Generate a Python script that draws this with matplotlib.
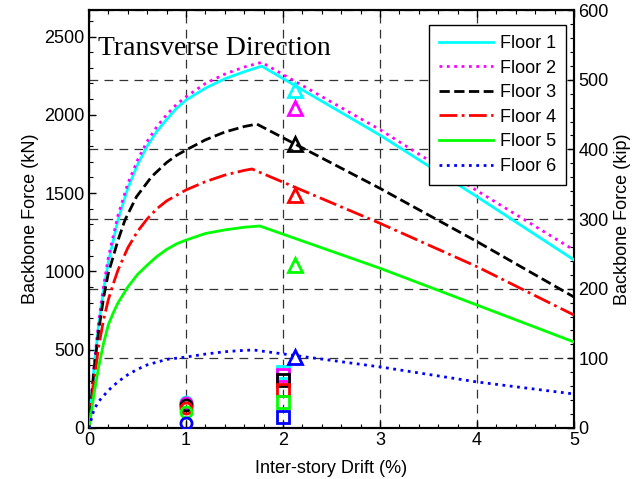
import matplotlib
matplotlib.use("Agg")
import matplotlib.pyplot as plt
from matplotlib.ticker import MultipleLocator

KIP = 4.44822

# ---- data (kN vs inter-story drift %) ----
x1 = [0, 0.05, 0.1, 0.15, 0.2, 0.3, 0.4, 0.5, 0.6, 0.7, 0.8, 0.9, 1.0, 1.2, 1.4, 1.6, 1.78, 3.0, 4.0, 5.0]
f1 = [0, 370, 660, 880, 1060, 1330, 1530, 1680, 1800, 1895, 1970, 2040, 2094, 2170, 2230, 2275, 2311, 1870, 1477, 1073]

x2 = [0, 0.05, 0.1, 0.15, 0.2, 0.3, 0.4, 0.5, 0.6, 0.7, 0.8, 0.9, 1.0, 1.2, 1.4, 1.6, 1.78, 3.0, 4.0, 5.0]
f2 = [0, 380, 680, 905, 1090, 1360, 1560, 1710, 1830, 1925, 2000, 2065, 2115, 2200, 2260, 2305, 2335, 1905, 1515, 1136]

x3 = [0, 0.05, 0.1, 0.15, 0.2, 0.3, 0.371, 0.49, 0.646, 0.8, 0.9, 1.0, 1.2, 1.4, 1.6, 1.73, 3.0, 4.0, 5.0]
f3 = [0, 360, 620, 830, 990, 1200, 1328, 1477, 1605, 1695, 1740, 1775, 1840, 1890, 1925, 1941, 1530, 1190, 836]

x4 = [0, 0.05, 0.1, 0.15, 0.2, 0.25, 0.3, 0.4, 0.5, 0.6, 0.7, 0.8, 1.0, 1.2, 1.4, 1.6, 1.68, 3.0, 4.0, 5.0]
f4 = [0, 290, 520, 690, 820, 920, 1010, 1150, 1255, 1335, 1400, 1450, 1520, 1573, 1615, 1645, 1654, 1307, 1030, 721]

x5 = [0, 0.05, 0.1, 0.15, 0.2, 0.25, 0.3, 0.4, 0.5, 0.6, 0.7, 0.8, 0.9, 1.0, 1.2, 1.4, 1.6, 1.76, 3.0, 4.0, 5.0]
f5 = [0, 210, 390, 540, 660, 735, 800, 900, 980, 1040, 1095, 1140, 1175, 1200, 1242, 1265, 1282, 1290, 1020, 785, 549]

x6 = [0, 0.05, 0.1, 0.2, 0.3, 0.4, 0.5, 0.6, 0.8, 1.0, 1.2, 1.4, 1.6, 1.7, 3.0, 4.0, 5.0]
f6 = [0, 115, 170, 240, 296, 340, 375, 403, 438, 453, 472, 487, 496, 498, 390, 294, 217]

# marker points (kN)
circle_x = 1.0
circle_f = [168, 160, 147, 128, 102, 34]
square_x = 2.0
square_f = [357, 338, 306, 243, 166, 70]
tri_x = 2.12
tri_f = [2158, 2043, 1813, 1488, 1041, 453]

labels = ["Floor 1", "Floor 2", "Floor 3", "Floor 4", "Floor 5", "Floor 6"]
colors = ["#00FFFF", "#FF00FF", "#000000", "#FF0000", "#00FF00", "#0000FF"]
styles = ["-", ":", "--", "-.", "-", ":"]

xs = [x1, x2, x3, x4, x5, x6]
fs = [f1, f2, f3, f4, f5, f6]

plt.rcParams['font.family'] = ['Liberation Sans', 'DejaVu Sans']

fig = plt.figure(figsize=(6.4, 4.79), dpi=100)
ax = fig.add_axes([0.139, 0.1065, 0.758, 0.8725])
ax2 = ax.twinx()

for x, f, c, s, l in zip(xs, fs, colors, styles, labels):
    ax.plot(x, f, color=c, linestyle=s, linewidth=2, label=l, zorder=3)

for c, cf, sf, tf in zip(colors, circle_f, square_f, tri_f):
    ax.plot([circle_x], [cf], 'o', mfc='none', mec=c, mew=2, ms=8, zorder=4)
    ax.plot([square_x], [sf], 's', mfc='none', mec=c, mew=2, ms=8, zorder=4)
    ax.plot([tri_x], [tf], '^', mfc='none', mec=c, mew=2, ms=10, zorder=4)

ax.set_xlim(0, 5)
ax.set_ylim(0, 600 * KIP)
ax2.set_ylim(0, 600)

ax.xaxis.set_major_locator(MultipleLocator(1))
ax.xaxis.set_minor_locator(MultipleLocator(0.2))
ax.yaxis.set_major_locator(MultipleLocator(500))
ax.yaxis.set_minor_locator(MultipleLocator(100))
ax2.yaxis.set_major_locator(MultipleLocator(100))
ax2.yaxis.set_minor_locator(MultipleLocator(20))

for a in (ax, ax2):
    a.tick_params(which='both', direction='in', labelsize=13, colors='black', pad=3)
    a.tick_params(which='major', length=5, width=1)
    a.tick_params(which='minor', length=3, width=0.8)
ax.tick_params(which='both', top=True)

for sp in ax.spines.values():
    sp.set_linewidth(1.5)
for sp in ax2.spines.values():
    sp.set_linewidth(1.5)

gkw = dict(color='#333333', linestyle=(0, (7, 5)), linewidth=0.9)
ax.xaxis.grid(True, which='major', **gkw)
ax2.yaxis.grid(True, which='major', **gkw)
ax.set_zorder(ax2.get_zorder() + 1)
ax.patch.set_visible(False)

ax.set_xlabel("Inter-story Drift (%)", fontsize=13, labelpad=8)
ax.set_ylabel("Backbone Force (kN)", fontsize=13, labelpad=4)
ax2.set_ylabel("Backbone Force (kip)", fontsize=13, labelpad=4)

ax.text(0.018, 0.892, "Transverse Direction", transform=ax.transAxes,
        fontsize=20, family=['Liberation Serif', 'DejaVu Serif'], va='baseline', ha='left')

leg = ax.legend(loc='upper right', bbox_to_anchor=(0.984, 0.964), borderaxespad=0,
                fontsize=13, frameon=True, fancybox=False, edgecolor='black', framealpha=1,
                handlelength=3.0, labelspacing=0.42, borderpad=0.55, handletextpad=0.4)
leg.get_frame().set_linewidth(1.0)

fig.savefig("out.png", dpi=100)
